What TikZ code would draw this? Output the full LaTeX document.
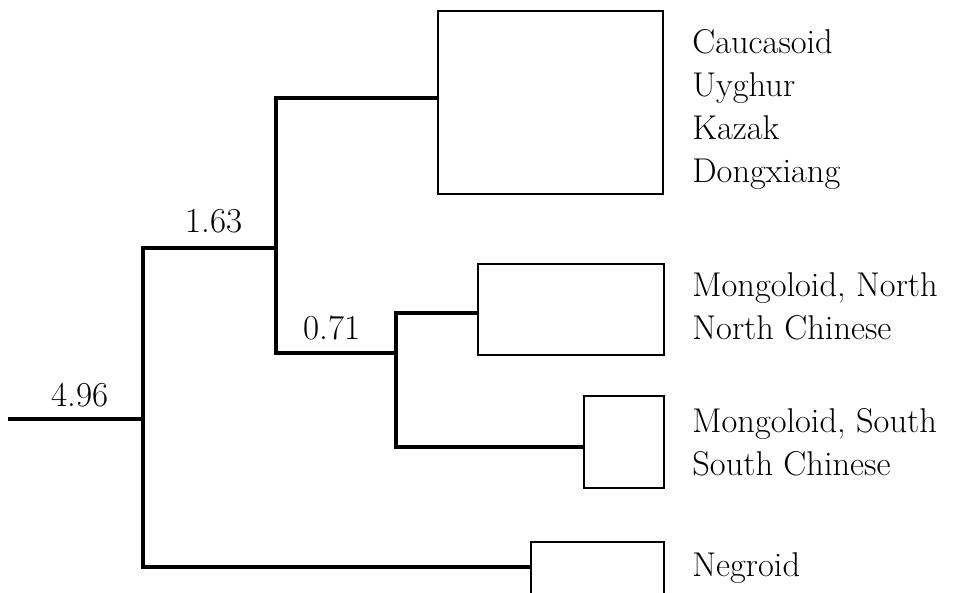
\documentclass[tikz,border=0pt]{standalone}
\usepackage{tikz}

\begin{document}
\begin{tikzpicture}[x=0.5pt,y=-0.5pt,
	branch/.style={line width=2.2pt},
	clade/.style={draw,line width=1.1pt,rectangle,inner sep=0pt,anchor=north west},
	taxon/.style={anchor=base west,inner sep=0pt,font=\fontsize{17.2}{20}\selectfont},
	dist/.style={anchor=base,inner sep=0pt,font=\fontsize{17.5}{20}\selectfont}]
	\useasboundingbox (0,0) rectangle (966,593);
% clade boxes
	\node[clade,minimum width=112.5pt,minimum height=91.5pt] (cauc) at (437,10) {};
	\node[clade,minimum width=93pt,minimum height=45.5pt] (mnorth) at (477,263) {};
	\node[clade,minimum width=40pt,minimum height=46pt] (msouth) at (583,395) {};
	\node[clade,minimum width=66.5pt,minimum height=27.5pt] (negro) at (530,541) {};
% branch points
	\coordinate (root) at (8,419);
	\coordinate (j0) at (143,248);
	\coordinate (j1) at (143,567);
	\coordinate (k0) at (276,98);
	\coordinate (k1) at (276,353);
	\coordinate (m0) at (396,313);
	\coordinate (m1) at (396,447);
	\draw[branch] (root) -- (root -| j0);
	\draw[branch] (j0 -| k0) -- (j0) -- (j1) -- (j1 -| negro.west);
	\draw[branch] (cauc.west |- k0) -- (k0) -- (k1) -- (k1 -| m0);
	\draw[branch] (mnorth.west |- m0) -- (m0) -- (m1) -- (m1 -| msouth.west);
% distances
	\node[dist] (d1) at (80,407) {4.96};
	\node[dist] (d2) at (214,233) {1.63};
	\node[dist] (d3) at (332,340) {0.71};
% populations
	\node[taxon] (t1) at (692,54) {Caucasoid};
	\node[taxon] (t2) at (692,97) {Uyghur};
	\node[taxon] (t3) at (692,140) {Kazak};
	\node[taxon] (t4) at (692,183) {Dongxiang};
	\node[taxon] (t5) at (692,297) {Mongoloid, North};
	\node[taxon] (t6) at (692,340) {North Chinese};
	\node[taxon] (t7) at (692,433) {Mongoloid, South};
	\node[taxon] (t8) at (692,476) {South Chinese};
	\node[taxon] (t9) at (692,577) {Negroid};
\end{tikzpicture}
\end{document}
